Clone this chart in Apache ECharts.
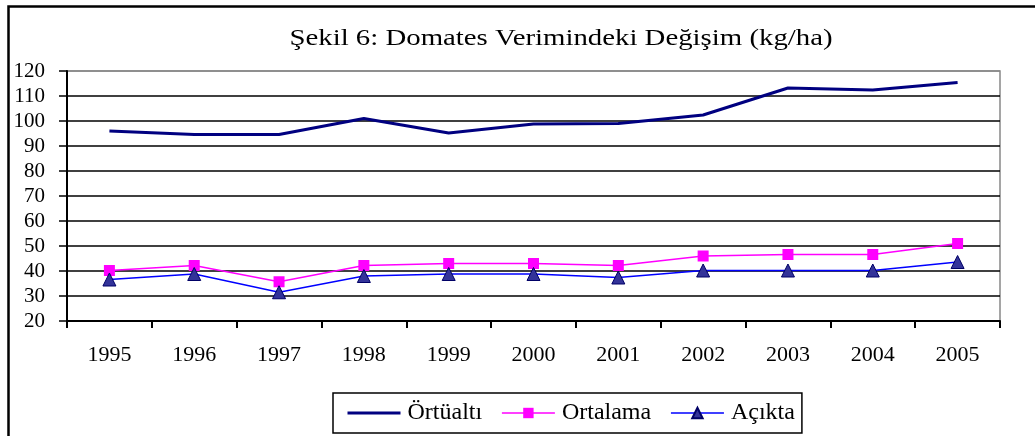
<!DOCTYPE html>
<html>
<head>
<meta charset="utf-8">
<script src="https://cdn.jsdelivr.net/npm/echarts@6/dist/echarts.min.js"></script>
<style>
html,body{margin:0;padding:0;background:#fff;}
#c{width:1035px;height:436px;}
</style>
</head>
<body>
<div id="c"></div>
<script>
var years = ['1995','1996','1997','1998','1999','2000','2001','2002','2003','2004','2005'];
var ortualti = [96, 94.6, 94.6, 101, 95.2, 98.8, 99, 102.4, 113.2, 112.4, 115.4];
var ortalama = [40.2, 42.2, 35.7, 42.2, 43, 43, 42.2, 46, 46.6, 46.6, 51];
var acikta = [36.6, 38.8, 31.5, 38, 38.8, 38.8, 37.4, 40.2, 40.2, 40.2, 43.6];
var yTicks = {min: 20, max: 120, interval: 10};
var titleText = 'Şekil 6: Domates Verimindeki Değişim (kg/ha)';

var font = 'Liberation Serif, Times New Roman, serif';
var chart = echarts.init(document.getElementById('c'), null, {renderer: 'canvas'});
chart.setOption({
  animation: false,
  backgroundColor: '#fff',
  textStyle: {fontFamily: font},
  graphic: [{
    type: 'rect', left: 6, top: 4, shape: {width: 1040, height: 440},
    style: {fill: 'none', stroke: '#000', lineWidth: 2.5}, z: 100
  }, {
    type: 'text', x: 561, y: 39, scaleX: 1.2,
    style: {text: titleText, font: '24px "Liberation Serif", serif', fill: '#000', align: 'center', verticalAlign: 'middle'},
    z: 100
  }],
  grid: {left: 67, right: 35, top: 71, bottom: 115, show: true, borderColor: '#888', borderWidth: 1.5, containLabel: false},
  legend: {
    left: 333, top: 393, width: 468, height: 41,
    padding: [8, 7, 8, 13],
    itemGap: 19,
    itemWidth: 53, itemHeight: 13,
    borderColor: '#000', borderWidth: 1.5,
    textStyle: {fontFamily: font, fontSize: 24, color: '#000', padding: [0, 0, 0, 2]},
    data: [
      {name: 'Örtüaltı', itemStyle: {opacity: 0}, lineStyle: {width: 3}},
      {name: 'Ortalama', lineStyle: {width: 1.5}},
      {name: 'Açıkta', lineStyle: {width: 1.5}}
    ]
  },
  xAxis: {
    type: 'category', data: years, boundaryGap: true,
    axisLine: {show: true, lineStyle: {color: '#000', width: 2}},
    axisTick: {show: true, length: 7, lineStyle: {color: '#000', width: 2}},
    axisLabel: {fontFamily: font, fontSize: 22, color: '#000', margin: 23},
    splitLine: {show: false}
  },
  yAxis: {
    type: 'value', min: yTicks.min, max: yTicks.max, interval: yTicks.interval,
    axisLine: {show: true, lineStyle: {color: '#000', width: 2}},
    axisTick: {show: true, length: 8, lineStyle: {color: '#000', width: 1.5}},
    axisLabel: {fontFamily: font, fontSize: 21, color: '#000', margin: 22},
    splitLine: {show: true, lineStyle: {color: ['#000','#000','#000','#000','#000','#000','#000','#000','#000','#000','#888'], width: 1.5}}
  },
  series: [
    {
      name: 'Örtüaltı', type: 'line', data: ortualti, symbol: 'none',
      lineStyle: {color: '#000080', width: 3}, itemStyle: {color: '#000080'}, z: 3
    },
    {
      name: 'Ortalama', type: 'line', data: ortalama, symbol: 'rect', symbolSize: 11,
      lineStyle: {color: '#FF00FF', width: 1.5}, itemStyle: {color: '#FF00FF'}, z: 4
    },
    {
      name: 'Açıkta', type: 'line', data: acikta, symbol: 'triangle', symbolSize: 13,
      lineStyle: {color: '#0000FF', width: 1.5},
      itemStyle: {color: '#333399', borderColor: '#000066', borderWidth: 1}, z: 5
    }
  ]
});
</script>
</body>
</html>
